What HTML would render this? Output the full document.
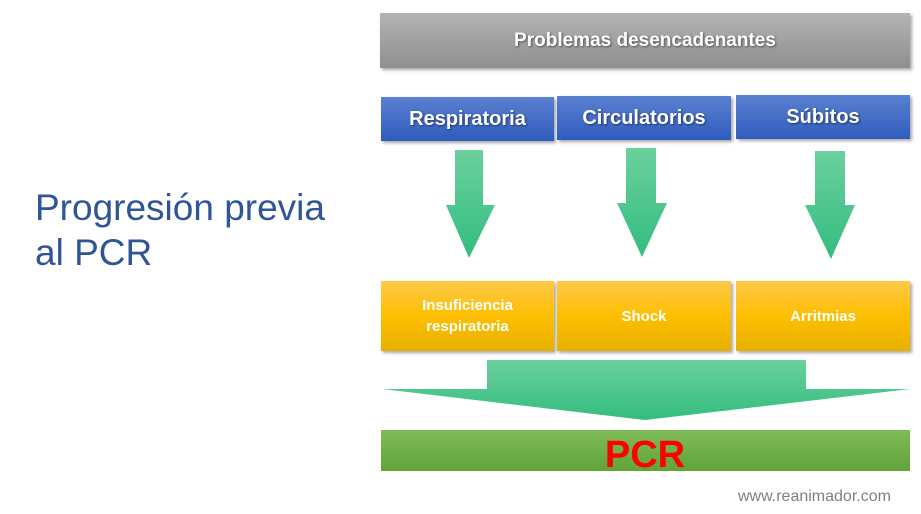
<!DOCTYPE html>
<html><head><meta charset="utf-8"><style>
body{margin:0;width:921px;height:514px;background:#fff;position:relative;overflow:hidden;font-family:"Liberation Sans",sans-serif}
.b{position:absolute;box-sizing:border-box;display:flex;align-items:center;justify-content:center;text-align:center;color:#fff;font-weight:bold;box-shadow:2px 2px 3px rgba(0,0,0,.35)}
.g{background:linear-gradient(#b3b3b3,#8f8f8f);font-size:19px;text-shadow:1px 1px 2px rgba(0,0,0,.5)}
.bl{background:linear-gradient(#5b80d0,#2e5cbe);font-size:20px;text-shadow:1px 1px 2px rgba(0,0,0,.5)}
.y{background:linear-gradient(#ffc94a,#fdbf00 50%,#e8b000);font-size:15px;line-height:21px}
.t{position:absolute;left:35px;top:185px;color:#2f5597;font-size:37px;line-height:45px}
</style></head><body>
<div class="t">Progresión previa<br>al PCR</div>
<div class="b g" style="left:380px;top:13px;width:530px;height:55px">Problemas desencadenantes</div>
<div class="b bl" style="left:381px;top:97px;width:173px;height:44px">Respiratoria</div>
<div class="b bl" style="left:557px;top:96px;width:174px;height:44px">Circulatorios</div>
<div class="b bl" style="left:736px;top:95px;width:174px;height:44px">Súbitos</div>
<svg style="position:absolute;left:0;top:0" width="921" height="514">
<defs><linearGradient id="gr" x1="0" y1="0" x2="0" y2="1"><stop offset="0" stop-color="#6bd09d"/><stop offset="1" stop-color="#33bd7e"/></linearGradient>
<linearGradient id="pg" x1="0" y1="0" x2="0" y2="1"><stop offset="0" stop-color="#7fbc58"/><stop offset="1" stop-color="#62a33a"/></linearGradient></defs>
<polygon fill="url(#gr)" points="455,150 483,150 483,205 495,205 469,258 446,205 455,205"/>
<polygon fill="url(#gr)" points="626,148 656,148 656,203 667,203 642,257 617,203 626,203"/>
<polygon fill="url(#gr)" points="815,151 845,151 845,205 855,205 831,259 805,205 815,205"/>
<polygon fill="url(#gr)" points="487,360 806,360 806,389 910,389 645,420 382,389 487,389"/>
<rect x="381" y="430" width="529" height="41" fill="url(#pg)"/>
<text x="645" y="467" text-anchor="middle" font-family="Liberation Sans" font-weight="bold" font-size="38" fill="#ff0000">PCR</text>
</svg>
<div class="b y" style="left:381px;top:281px;width:173px;height:70px">Insuficiencia<br>respiratoria</div>
<div class="b y" style="left:557px;top:281px;width:174px;height:70px">Shock</div>
<div class="b y" style="left:736px;top:281px;width:174px;height:70px">Arritmias</div>
<div style="position:absolute;left:738px;top:488px;color:#7f7f7f;font-size:16px">www.reanimador.com</div>
</body></html>
